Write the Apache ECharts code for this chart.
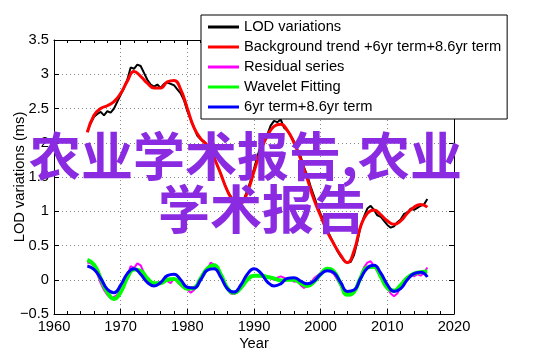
<!DOCTYPE html>
<html><head><meta charset="utf-8">
<script src="https://cdn.jsdelivr.net/npm/echarts@6/dist/echarts.min.js"></script>
<style>html,body{margin:0;padding:0;background:#fff}#c{width:542px;height:356px}</style>
</head><body><div id="c"></div>
<script>
// ---- data ----
const seriesNames = ['LOD variations', 'Background trend +6yr term+8.6yr term', 'Residual series', 'Wavelet Fitting', '6yr term+8.6yr term'];
const xLabelText = 'Year';
const yLabelText = 'LOD variations (ms)';
const watermarkLines = ['农业学术报告,农业', '学术报告'];
const firstYear = 1965, lastYear = 2016;

// half-year samples 1965.0 ... 2016.0
const lodValues = [2.17,2.28,2.38,2.42,2.45,2.40,2.46,2.44,2.50,2.60,2.70,2.80,2.92,3.10,3.08,3.14,3.12,3.02,2.92,2.85,2.82,2.85,2.80,2.86,2.88,2.86,2.84,2.78,2.72,2.62,2.46,2.34,2.22,2.10,2.05,2.02,1.95,1.88,1.80,1.66,1.55,1.42,1.30,1.22,1.15,1.10,1.12,1.18,1.30,1.45,1.62,1.80,1.95,2.02,2.12,2.25,2.32,2.30,2.34,2.22,2.18,2.10,2.02,1.90,1.80,1.64,1.52,1.36,1.22,1.08,0.96,0.86,0.72,0.62,0.52,0.42,0.34,0.28,0.25,0.26,0.36,0.55,0.78,0.92,1.04,1.08,1.02,0.94,0.92,0.86,0.80,0.76,0.78,0.84,0.88,0.96,0.98,1.04,1.02,1.05,1.08,1.10,1.18];
const residualValues = [0.25,0.24,0.20,0.08,-0.05,-0.15,-0.22,-0.27,-0.25,-0.22,-0.14,-0.05,0.04,0.20,0.17,0.24,0.21,0.10,0.02,-0.05,-0.07,-0.04,-0.06,0.00,-0.02,-0.05,0.02,-0.03,-0.08,-0.12,-0.14,-0.19,-0.15,-0.06,0.00,0.06,0.15,0.25,0.22,0.14,0.05,-0.05,-0.13,-0.20,-0.21,-0.18,-0.10,-0.04,0.02,0.06,0.05,0.07,0.06,0.03,0.04,0.02,0.00,0.03,0.05,0.03,0.00,0.02,-0.03,-0.02,-0.08,-0.12,-0.09,-0.05,0.02,0.06,0.10,0.14,0.17,0.12,0.08,0.00,-0.08,-0.16,-0.21,-0.23,-0.18,-0.06,0.05,0.18,0.25,0.27,0.20,0.12,0.05,-0.04,-0.12,-0.20,-0.24,-0.20,-0.10,-0.04,0.03,0.07,0.05,0.08,0.06,0.10,0.18];
// yearly samples 1965 ... 2016
const trendValues = [2.15,2.40,2.50,2.54,2.60,2.72,2.90,3.04,2.97,2.87,2.80,2.80,2.89,2.91,2.78,2.50,2.22,2.06,1.96,1.78,1.55,1.30,1.15,1.12,1.28,1.58,1.88,2.10,2.24,2.27,2.18,2.00,1.76,1.47,1.17,0.93,0.70,0.52,0.36,0.25,0.42,0.78,0.97,1.02,0.95,0.86,0.81,0.86,0.97,1.06,1.10,1.06];
const waveletValues = [0.29,0.22,0.02,-0.18,-0.28,-0.18,0.03,0.15,0.13,0.02,-0.05,-0.05,0.00,0.01,-0.06,-0.13,-0.12,0.02,0.16,0.21,0.08,-0.12,-0.19,-0.12,0.00,0.06,0.06,0.04,0.02,-0.01,0.00,0.00,-0.05,-0.09,-0.03,0.08,0.16,0.12,-0.06,-0.22,-0.18,0.03,0.18,0.19,0.05,-0.12,-0.16,-0.08,0.03,0.09,0.11,0.12];
const termValues = [0.20,0.15,0.02,-0.14,-0.19,-0.08,0.09,0.16,0.08,-0.04,-0.09,-0.04,0.06,0.08,0.00,-0.11,-0.12,0.00,0.14,0.16,0.04,-0.13,-0.18,-0.08,0.08,0.16,0.10,-0.03,-0.09,-0.06,0.02,0.03,-0.02,-0.06,-0.02,0.08,0.13,0.10,-0.04,-0.17,-0.15,0.02,0.17,0.21,0.10,-0.07,-0.17,-0.13,0.00,0.09,0.11,0.04];

// ---- build ----
function pairs(vals, step) {
  return vals.map((v, i) => [firstYear + i * step, v]);
}
const FONT = '"Liberation Sans", Arial, Helvetica, sans-serif';
const FS = 14.7;
const chart = echarts.init(document.getElementById('c'), null, {renderer: 'canvas'});
const lineSeries = (name, data, color, width, smooth) => ({
  name, type: 'line', data, showSymbol: false, symbol: 'none', smooth: smooth,
  lineStyle: {color, width}, itemStyle: {color}, animation: false,
  xAxisIndex: 0, yAxisIndex: 0
});
const ylab = v => (v < 0 ? '\u2212' + Math.abs(v) : String(v));
chart.setOption({
  animation: false,
  backgroundColor: '#fff',
  grid: {left: 54, right: 88, top: 40, bottom: 42, containLabel: false, outerBoundsMode: 'none'},
  xAxis: [{
    type: 'value', min: 1960, max: 2020, interval: 10, position: 'bottom',
    name: xLabelText, nameLocation: 'middle', nameGap: 22, nameMoveOverlap: false,
    nameTextStyle: {fontFamily: FONT, fontSize: FS, color: '#000'},
    axisLine: {show: true, onZero: false, lineStyle: {color: '#000', width: 1}},
    axisTick: {show: true, inside: true, length: 5, lineStyle: {color: '#000'}},
    minorTick: {show: true, splitNumber: 5, length: 3, lineStyle: {color: '#000'}},
    axisLabel: {fontFamily: FONT, fontSize: FS, color: '#000', margin: 5, formatter: v => String(v)},
    splitLine: {show: true, lineStyle: {color: '#888', type: [1, 3], width: 1}}
  }, {
    type: 'value', min: 1960, max: 2020, interval: 10, position: 'top',
    axisLine: {show: true, onZero: false, lineStyle: {color: '#000', width: 1}},
    axisTick: {show: true, inside: true, length: 5, lineStyle: {color: '#000'}},
    minorTick: {show: true, splitNumber: 5, length: 3, lineStyle: {color: '#000'}},
    axisLabel: {show: false}, splitLine: {show: false}
  }],
  yAxis: [{
    type: 'value', min: -0.5, max: 3.5, interval: 0.5, position: 'left',
    name: yLabelText, nameLocation: 'middle', nameGap: 27, nameMoveOverlap: false,
    nameTextStyle: {fontFamily: FONT, fontSize: FS, color: '#000'},
    axisLine: {show: true, onZero: false, lineStyle: {color: '#000', width: 1}},
    axisTick: {show: true, inside: true, length: 5, lineStyle: {color: '#000'}},
    axisLabel: {fontFamily: FONT, fontSize: FS, color: '#000', margin: 5, formatter: ylab},
    splitLine: {show: true, lineStyle: {color: '#888', type: [1, 3], width: 1}}
  }, {
    type: 'value', min: -0.5, max: 3.5, interval: 0.5, position: 'right',
    axisLine: {show: true, onZero: false, lineStyle: {color: '#000', width: 1}},
    axisTick: {show: true, inside: true, length: 5, lineStyle: {color: '#000'}},
    axisLabel: {show: false}, splitLine: {show: false}
  }],
  legend: {
    show: true, orient: 'vertical', left: 201, top: 15,
    data: seriesNames,
    icon: 'rect', itemWidth: 31, itemHeight: 3, itemGap: 0,
    padding: [2, 6, 2, 7],
    borderColor: '#000', borderWidth: 1, backgroundColor: '#fff',
    textStyle: {fontFamily: FONT, fontSize: FS, color: '#000', lineHeight: 20},
    selectedMode: false
  },
  series: [
    lineSeries(seriesNames[0], pairs(lodValues, 0.5), '#000000', 2, false),
    lineSeries(seriesNames[1], pairs(trendValues, 1), '#ff0000', 3, true),
    lineSeries(seriesNames[2], pairs(residualValues, 0.5), '#ff00ff', 2, false),
    lineSeries(seriesNames[3], pairs(waveletValues, 1), '#00ff00', 4, true),
    lineSeries(seriesNames[4], pairs(termValues, 1), '#0000ff', 3, true)
  ],
  graphic: [
    {type: 'text', z: 100, left: 29, top: 130,
     style: {text: watermarkLines[0], fill: '#8a2be2', font: 'bold 52px "Noto Sans CJK SC"'}},
    {type: 'text', z: 100, left: 158, top: 183,
     style: {text: watermarkLines[1], fill: '#8a2be2', font: 'bold 52px "Noto Sans CJK SC"'}}
  ]
});
</script></body></html>
